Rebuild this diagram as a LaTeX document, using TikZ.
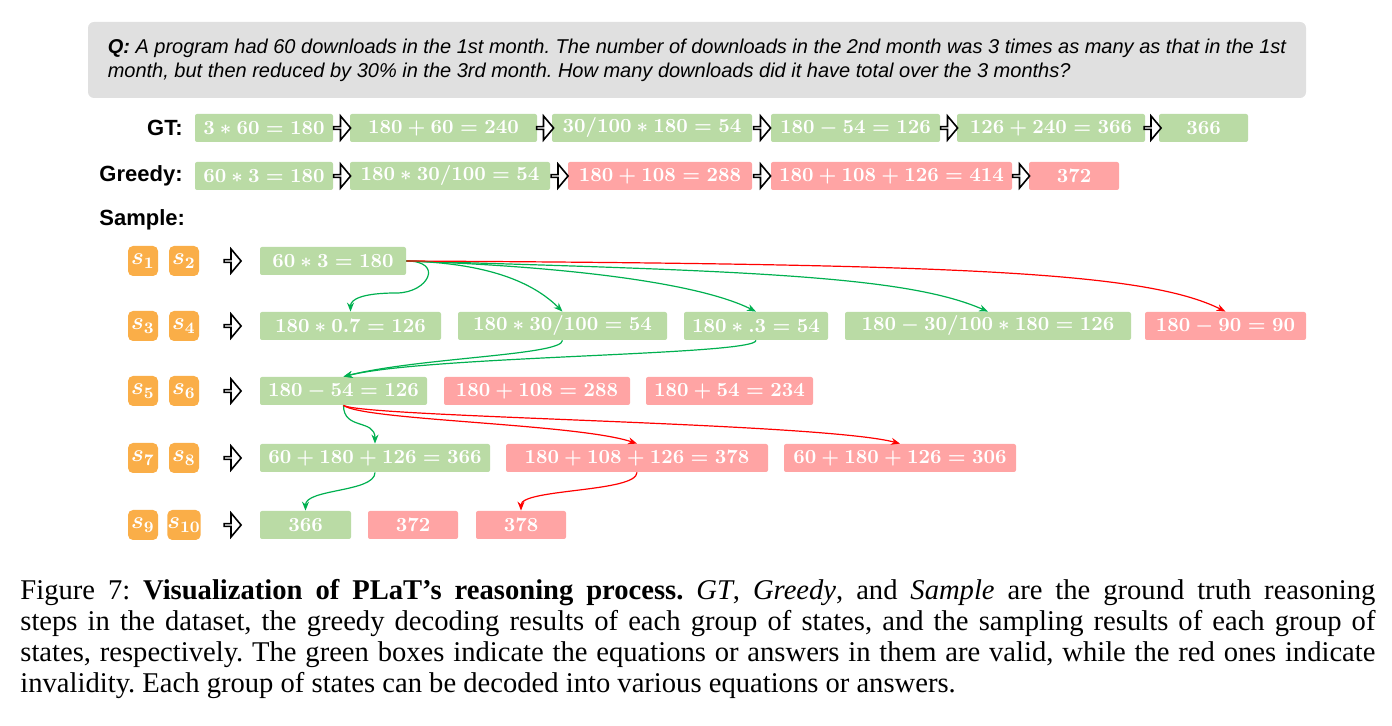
\documentclass[tikz,border=0pt]{standalone}
\usepackage[no-math]{fontspec}
\setmainfont{Liberation Serif}
\newfontfamily\arialfont{Liberation Sans}
\usepackage{xcolor}
\usetikzlibrary{shapes.arrows,arrows.meta}

\definecolor{okgreen}{RGB}{186,219,165}
\definecolor{badred}{RGB}{255,164,164}
\definecolor{stateorange}{RGB}{250,174,72}
\definecolor{qgray}{RGB}{224,224,224}
\definecolor{linkgreen}{RGB}{0,176,80}
\definecolor{linkred}{RGB}{255,0,0}

\begin{document}
\begin{tikzpicture}[x=0.5pt,y=0.5pt,
            eq/.style={rectangle, fill=#1, rounded corners=1pt, minimum height=14pt, inner sep=0pt, text=white, font=\fontsize{10.2}{12}\selectfont\boldmath},
            stbox/.style={rectangle, fill=stateorange, rounded corners=2.5pt, minimum width=15pt, minimum height=15pt, inner sep=0pt, text=white, font=\fontsize{12}{13}\selectfont\boldmath},
            blk/.style={single arrow, draw=black, fill=white, line width=0.8pt, minimum width=12pt, minimum height=8.5pt, single arrow head extend=3pt, single arrow tip angle=100, inner sep=0pt},
            rowlabel/.style={font=\arialfont\fontsize{11}{13}\selectfont\bfseries, inner sep=0pt},
            glink/.style={draw=linkgreen, line width=0.6pt, -{Stealth[length=4.5pt,width=3.5pt]}},
            rlink/.style={draw=linkred, line width=0.6pt, -{Stealth[length=4.5pt,width=3.5pt]}}]
            \useasboundingbox (0,0) rectangle (1392,-726);

            % Question
            \node[fill=qgray, rounded corners=3pt, minimum width=609pt, minimum height=38pt, align=left,
                  font=\arialfont\itshape\fontsize{10}{12}\selectfont\frenchspacing] (q) at (697,-60)
                {\textbf{Q:} A program had 60 downloads in the 1st month. The number of downloads in the 2nd month was 3 times as many as that in the 1st\\
                 month, but then reduced by 30\% in the 3rd month. How many downloads did it have total over the 3 months?};

            % Ground truth
            \node[rowlabel, anchor=east] (gtlab) at (183,-128) {GT:};
            \node[eq=okgreen, minimum width=69pt] (gt1) at (264,-128) {$3*60=180$};
            \node[eq=okgreen, minimum width=93.5pt] (gt2) at (443.5,-128) {$180+60=240$};
            \node[eq=okgreen, minimum width=100pt] (gt3) at (652,-128) {$30/100*180=54$};
            \node[eq=okgreen, minimum width=84.5pt] (gt4) at (855.5,-128) {$180-54=126$};
            \node[eq=okgreen, minimum width=94pt] (gt5) at (1051,-128) {$126+240=366$};
            \node[eq=okgreen, minimum width=44.5pt] (gt6) at (1203.5,-128) {$366$};
            \node[blk] (gta1) at (341.5,-128) {};
            \node[blk] (gta2) at (544.5,-128) {};
            \node[blk] (gta3) at (761.5,-128) {};
            \node[blk] (gta4) at (948.5,-128) {};
            \node[blk] (gta5) at (1152,-128) {};

            % Greedy
            \node[rowlabel, anchor=east] (grlab) at (183,-176) {Greedy:};
            \node[eq=okgreen, minimum width=69pt] (gr1) at (264,-176) {$60*3=180$};
            \node[eq=okgreen, minimum width=100pt] (gr2) at (450,-176) {$180*30/100=54$};
            \node[eq=badred, minimum width=92pt] (gr3) at (660,-176) {$180+108=288$};
            \node[eq=badred, minimum width=120.5pt] (gr4) at (891.5,-176) {$180+108+126=414$};
            \node[eq=badred, minimum width=45pt] (gr5) at (1074,-176) {$372$};
            \node[blk] (gra1) at (341.5,-176) {};
            \node[blk] (gra2) at (559,-176) {};
            \node[blk] (gra3) at (761.5,-176) {};
            \node[blk] (gra4) at (1020.5,-176) {};

            % Sample
            \node[rowlabel, anchor=west] (smlab) at (99,-220) {Sample:};
            \foreach \row/\ya/\sa/\sb in {1/261/1/2, 2/326/3/4, 3/391/5/6, 4/458/7/8, 5/525/9/10} {
                \node[stbox] (sa\row) at (143,-\ya) {$s_{\sa}$};
                \node[stbox] (sb\row) at (184,-\ya) {$s_{\sb}$};
                \node[blk] (sr\row) at (232,-\ya) {};
            }

            \node[eq=okgreen, minimum width=73pt] (r1) at (333,-261) {$60*3=180$};

            \node[eq=okgreen, minimum width=90.5pt] (r2a) at (350.5,-326) {$180*0.7=126$};
            \node[eq=okgreen, minimum width=104.5pt] (r2b) at (562.5,-326) {$180*30/100=54$};
            \node[eq=okgreen, minimum width=72pt] (r2c) at (756,-326) {$180*.3=54$};
            \node[eq=okgreen, minimum width=143pt] (r2d) at (988,-326) {$180-30/100*180=126$};
            \node[eq=badred, minimum width=80.5pt] (r2e) at (1225.5,-326) {$180-90=90$};

            \node[eq=okgreen, minimum width=83.5pt] (r3a) at (343.5,-391) {$180-54=126$};
            \node[eq=badred, minimum width=93pt] (r3b) at (537,-391) {$180+108=288$};
            \node[eq=badred, minimum width=83.5pt] (r3c) at (729.5,-391) {$180+54=234$};

            \node[eq=okgreen, minimum width=115pt] (r4a) at (375,-458) {$60+180+126=366$};
            \node[eq=badred, minimum width=131pt] (r4b) at (637,-458) {$180+108+126=378$};
            \node[eq=badred, minimum width=116pt] (r4c) at (900,-458) {$60+180+126=306$};

            \node[eq=okgreen, minimum width=45.5pt] (r5a) at (305.5,-525) {$366$};
            \node[eq=badred, minimum width=45pt] (r5b) at (413,-525) {$372$};
            \node[eq=badred, minimum width=45pt] (r5c) at (521,-525) {$378$};

            % Connections
            \draw[glink] (r1.east) .. controls +(38,0) and +(32,0) .. +(-10,-32) .. controls +(-35,0) and +(0,12) .. (r2a.north);
            \draw[glink] (r1.east) .. controls +(80,-2) and +(-30,30) .. (r2b.north);
            \draw[glink] (r1.east) .. controls +(150,-5) and +(-60,30) .. (r2c.north);
            \draw[glink] (r1.east) .. controls +(350,-10) and +(-80,35) .. (r2d.north);
            \draw[rlink] (r1.east) .. controls +(550,-3) and +(-80,40) .. (r2e.north);

            \draw[glink] (r2b.south) .. controls +(0,-15) and +(75,19) .. (r3a.north);
            \draw[glink] (r2c.south) .. controls +(0,-15) and +(85,21) .. (r3a.north);

            \draw[glink] (r3a.south) .. controls +(0,-25) and +(0,25) .. (r4a.north);
            \draw[rlink] (r3a.south) .. controls +(20,-15) and +(-60,20) .. (r4b.north);
            \draw[rlink] (r3a.south) .. controls +(20,-12) and +(-80,21) .. (r4c.north);

            \draw[glink] (r4a.south) .. controls +(0,-20) and +(0,22) .. (r5a.north);
            \draw[rlink] (r4b.south) .. controls +(0,-20) and +(0,22) .. (r5c.north);

            % Caption
            \node[anchor=base west, text width=677.5pt, align=justify, inner sep=0pt, font=\fontsize{14.3}{15.5}\selectfont\frenchspacing] (cap) at (20,-600)
                {Figure 7: \textbf{Visualization of PLaT's reasoning process.} \textit{GT}, \textit{Greedy}, and \textit{Sample} are the ground truth reasoning\linebreak
                 steps in the dataset, the greedy decoding results of each group of states, and the sampling results of each group of\linebreak
                 states, respectively. The green boxes indicate the equations or answers in them are valid, while the red ones indicate\linebreak
                 invalidity. Each group of states can be decoded into various equations or answers.};
        \end{tikzpicture}
\end{document}
